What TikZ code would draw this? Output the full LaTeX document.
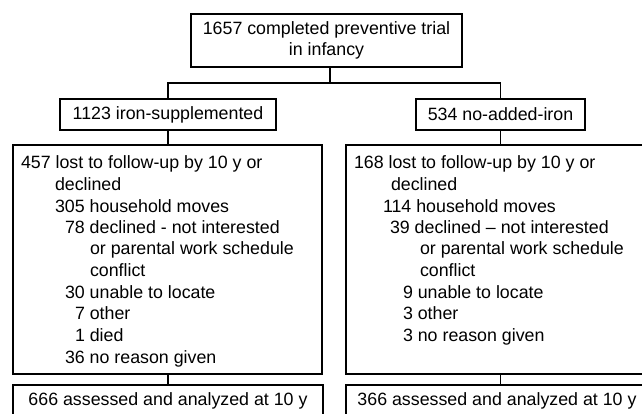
\documentclass[tikz,border=0pt]{standalone}
\usepackage{fontspec}
\setmainfont{Liberation Sans}
\newcommand{\fsz}{\fontsize{17.8}{21.5}\selectfont}
\begin{document}
\begin{tikzpicture}[x=1pt,y=-1pt,
  every node/.style={font=\fsz,inner sep=0pt,outer sep=0pt},
  box/.style={draw,line width=1.1pt,align=center},
  ln/.style={anchor=base west},
  conn/.style={line width=1.1pt}]
\useasboundingbox (0,0) rectangle (642,414);
% boxes
\node[box,minimum width=271pt,minimum height=53pt] (top) at (326.5,40.5)
  {1657 completed preventive trial\\in infancy};
\node[box,minimum width=216pt,minimum height=31pt] (iron) at (168,114.5) {1123 iron-supplemented};
\node[box,minimum width=169pt,minimum height=31pt] (noiron) at (500.5,114.5) {534 no-added-iron};
\node[box,minimum width=309pt,minimum height=229pt] (lostL) at (167.5,259.5) {};
\node[box,minimum width=309pt,minimum height=229pt] (lostR) at (500.5,259.5) {};
\node[box,minimum width=310pt,minimum height=31pt] (anaL) at (168,400.5) {666 assessed and analyzed at 10 y};
\node[box,minimum width=309pt,minimum height=31pt] (anaR) at (500.5,400.5) {};
\node (anaRt) at (497,400.5) {366 assessed and analyzed at 10 y};
% left lines
\node[ln] (l1) at (21,169) {457 lost to follow-up by 10 y or};
\node[ln] (l2) at (55,190.5) {declined};
\node[ln] (l3) at (55,212) {305 household moves};
\node[ln] (l4) at (65,233) {78 declined - not interested};
\node[ln] (l5) at (90,254.5) {or parental work schedule};
\node[ln] (l6) at (90,276) {conflict};
\node[ln] (l7) at (65,298) {30 unable to locate};
\node[ln] (l8) at (75,319) {7 other};
\node[ln] (l9) at (75,341) {1 died};
\node[ln] (l10) at (65,363) {36 no reason given};
% right lines
\node[ln] (r1) at (354,169) {168 lost to follow-up by 10 y or};
\node[ln] (r2) at (391,190.5) {declined};
\node[ln] (r3) at (383,212) {114 household moves};
\node[ln] (r4) at (390,233) {39 declined -- not interested};
\node[ln] (r5) at (420,254.5) {or parental work schedule};
\node[ln] (r6) at (420,276) {conflict};
\node[ln] (r7) at (403,298) {9 unable to locate};
\node[ln] (r8) at (403,319) {3 other};
\node[ln] (r9) at (403,341) {3 no reason given};
% connectors
\coordinate (hy) at (330,83);
\draw[conn] ([xshift=3.5pt]top.south) -- (hy);
\draw[conn] (iron.north) |- (hy) -| (noiron.north);
\draw[conn] (iron.south) -- (iron.south |- lostL.north);
\draw[conn] (noiron.south) -- (noiron.south |- lostR.north);
\draw[conn] (lostL.south -| iron.south) -- (anaL.north -| iron.south);
\draw[conn] (lostR.south -| noiron.south) -- (anaR.north -| noiron.south);
\end{tikzpicture}
\end{document}
